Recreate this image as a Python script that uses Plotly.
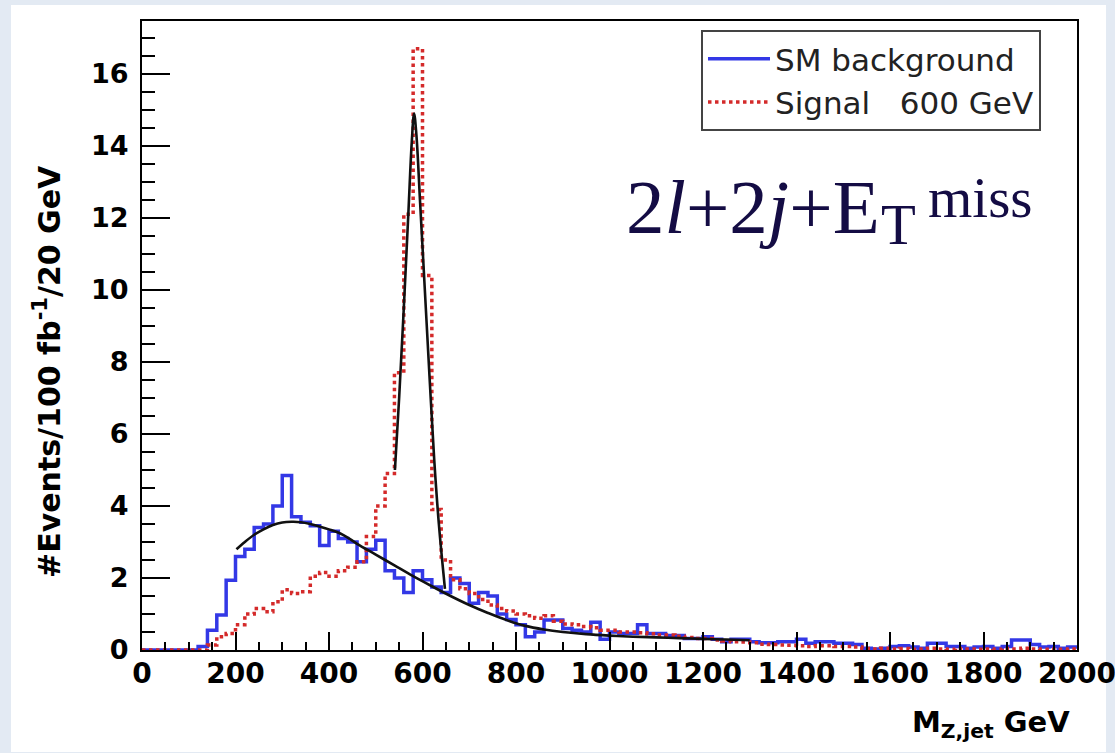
import plotly.graph_objects as go

# ---------------- data ----------------
bin_edges = list(range(0, 2001, 20))  # 100 bins of 20 GeV

sm_background = [
    0.0, 0.0, 0.0, 0.0, 0.0, 0.0, 0.1, 0.55, 0.97, 1.94,      # 0-200
    2.6, 2.8, 3.4, 3.5, 4.0, 4.85, 3.7, 3.55, 3.45, 2.9,      # 200-400
    3.3, 3.1, 3.0, 2.45, 2.8, 3.05, 2.2, 2.0, 1.6, 2.2,       # 400-600
    1.95, 1.75, 1.6, 2.0, 1.85, 1.3, 1.6, 1.5, 1.0, 0.85,     # 600-800
    0.7, 0.37, 0.5, 0.83, 0.83, 0.6, 0.55, 0.5, 0.77, 0.3,    # 800-1000
    0.5, 0.46, 0.46, 0.7, 0.46, 0.46, 0.4, 0.4, 0.32, 0.32,   # 1000-1200
    0.37, 0.3, 0.23, 0.3, 0.3, 0.23, 0.2, 0.2, 0.23, 0.23,    # 1200-1400
    0.3, 0.19, 0.23, 0.23, 0.19, 0.19, 0.15, 0.05, 0.03, 0.05,  # 1400-1600
    0.1, 0.12, 0.08, 0.05, 0.19, 0.19, 0.1, 0.1, 0.05, 0.08,  # 1600-1800
    0.1, 0.05, 0.1, 0.28, 0.28, 0.15, 0.08, 0.1, 0.05, 0.08,  # 1800-2000
]

signal_600 = [
    0.0, 0.0, 0.0, 0.0, 0.0, 0.0, 0.0, 0.14, 0.37, 0.46,      # 0-200
    0.7, 1.0, 1.15, 1.06, 1.34, 1.67, 1.57, 1.62, 2.05, 2.15, # 200-400
    2.05, 2.2, 2.3, 2.45, 3.15, 4.0, 4.9, 7.7, 12.1, 16.7,    # 400-600
    10.4, 3.9, 2.5, 1.95, 1.7, 1.57, 1.4, 1.25, 1.15, 1.08,   # 600-800
    1.0, 0.95, 0.88, 0.95, 0.8, 0.72, 0.7, 0.65, 0.62, 0.55,  # 800-1000
    0.55, 0.5, 0.5, 0.48, 0.45, 0.42, 0.42, 0.38, 0.35, 0.32, # 1000-1200
    0.32, 0.28, 0.25, 0.23, 0.22, 0.2, 0.16, 0.15, 0.14, 0.13,  # 1200-1400
    0.12, 0.1, 0.12, 0.12, 0.1, 0.1, 0.08, 0.04, 0.03, 0.05,  # 1400-1600
    0.03, 0.04, 0.02, 0.03, 0.05, 0.03, 0.02, 0.04, 0.03, 0.02,  # 1600-1800
    0.03, 0.02, 0.04, 0.03, 0.05, 0.03, 0.02, 0.03, 0.02, 0.03,  # 1800-2000
]

bg_fit_mass = [202, 220, 240, 260, 280, 300, 320, 340, 360, 380, 400, 430,
               460, 500, 540, 580, 620, 660, 700, 740, 780, 820, 860, 900,
               950, 1000, 1050, 1100, 1150, 1200, 1250, 1300]
bg_fit_value = [2.8, 3.0, 3.2, 3.35, 3.47, 3.54, 3.56, 3.55, 3.5, 3.43, 3.35, 3.2,
                2.95, 2.65, 2.35, 2.05, 1.77, 1.5, 1.25, 1.03, 0.83, 0.67, 0.57, 0.5,
                0.44, 0.4, 0.37, 0.35, 0.33, 0.31, 0.29, 0.27]

sig_fit_mass = [541, 550, 560, 570, 577, 582, 587, 595, 605, 615, 625, 635, 648]
sig_fit_value = [5.0, 7.0, 9.5, 12.2, 14.1, 14.9, 14.3, 12.4, 10.0, 7.6, 5.3, 3.5, 1.7]

x_tick_values = list(range(0, 2001, 200))
y_tick_values = list(range(0, 17, 2))

# ---------------- figure ----------------
W, H = 1115, 753
ML, MR, MT, MB = 142, 38, 21, 103
PW, PH = W - ML - MR, H - MT - MB


def px_x(p):
    return (p - ML) / PW


def px_y(p):
    return (H - MB - p) / PH


def step_xy(edges, vals):
    return list(edges), list(vals) + [vals[-1]]


fig = go.Figure()

bx, by = step_xy(bin_edges, sm_background)
fig.add_trace(go.Scatter(x=bx, y=by, mode="lines", line_shape="hv",
                         line=dict(color="#3338e6", width=3.5),
                         name="SM background"))
sx, sy = step_xy(bin_edges, signal_600)
fig.add_trace(go.Scatter(x=sx, y=sy, mode="lines", line_shape="hv",
                         line=dict(color="#d42a2a", width=3.5, dash="3.5px,3.5px"),
                         name="Signal\u00a0\u00a0\u00a0600 GeV"))
fig.add_trace(go.Scatter(x=bg_fit_mass, y=bg_fit_value, mode="lines",
                         line=dict(color="#111111", width=2.6, shape="spline"),
                         showlegend=False))
fig.add_trace(go.Scatter(x=sig_fit_mass, y=sig_fit_value, mode="lines",
                         line=dict(color="#111111", width=2.6, shape="spline"),
                         showlegend=False))

xtickfont = dict(family="DejaVu Sans", size=28, color="black", weight="bold")
ytickfont = dict(family="DejaVu Sans", size=27, color="black", weight="bold")

fig.update_xaxes(range=[0, 2000], showline=True, linecolor="black", linewidth=2,
                 mirror=True, showgrid=False, zeroline=False,
                 tickmode="array", tickvals=x_tick_values,
                 ticks="inside", ticklen=18, tickwidth=1.5, tickcolor="black",
                 minor=dict(ticks="inside", ticklen=8, dtick=50, tickwidth=1.5,
                            tickcolor="black", showgrid=False),
                 tickfont=xtickfont, ticklabeloverflow="allow")
try:
    fig.update_xaxes(ticklabelstandoff=-3)
except ValueError:
    fig.update_xaxes(ticklabelstandoff=0)

fig.update_yaxes(range=[0, 17.47], showline=True, linecolor="black", linewidth=2,
                 mirror=True, showgrid=False, zeroline=False,
                 tickmode="array", tickvals=y_tick_values,
                 ticks="inside", ticklen=28, tickwidth=1.5, tickcolor="black",
                 minor=dict(ticks="inside", ticklen=13, dtick=0.5, tickwidth=1.5,
                            tickcolor="black", showgrid=False),
                 tickfont=ytickfont, ticklabelstandoff=6, ticklabeloverflow="allow")

fig.add_shape(type="rect", xref="paper", yref="paper", layer="below",
              x0=px_x(11), x1=px_x(1106), y0=px_y(752), y1=px_y(5),
              fillcolor="white", line=dict(width=0))

fig.add_annotation(text="#Events/100 fb<sup>-1</sup>/20 GeV", textangle=-90,
                   xref="paper", yref="paper", x=px_x(47), y=px_y(372),
                   xanchor="center", yanchor="middle", showarrow=False,
                   font=dict(family="DejaVu Sans", size=30, color="black", weight="bold"))
fig.add_annotation(text="M<sub>Z,jet</sub> GeV",
                   xref="paper", yref="paper", x=px_x(1072), y=px_y(724),
                   xanchor="right", yanchor="middle", showarrow=False,
                   font=dict(family="DejaVu Sans", size=29, color="black", weight="bold"))

formula_font = dict(family="Liberation Serif", color="#140c44")
fig.add_annotation(text="2<i>l</i>+2<i>j</i>+E",
                   xref="paper", yref="paper", x=px_x(624), y=px_y(207),
                   xanchor="left", yanchor="middle", showarrow=False,
                   font=dict(size=77, **formula_font))
fig.add_annotation(text="T",
                   xref="paper", yref="paper", x=px_x(879), y=px_y(224),
                   xanchor="left", yanchor="middle", showarrow=False,
                   font=dict(size=57, **formula_font))
fig.add_annotation(text="miss",
                   xref="paper", yref="paper", x=px_x(926), y=px_y(197),
                   xanchor="left", yanchor="middle", showarrow=False,
                   font=dict(size=57, **formula_font))

fig.update_layout(
    width=W, height=H,
    margin=dict(l=ML, r=MR, t=MT, b=MB, autoexpand=False),
    paper_bgcolor="#e3eaf3", plot_bgcolor="white",
    showlegend=True,
    legend=dict(x=px_x(701), y=px_y(30), xanchor="left", yanchor="top",
                bgcolor="white", bordercolor="#444444", borderwidth=2,
                font=dict(family="DejaVu Sans", size=31, color="#222222"),
                tracegroupgap=0, itemwidth=62),
)

fig.write_html("out.html",
               config={"displayModeBar": False},
               post_script="document.body.style.margin='0px';"
                           "document.body.style.overflow='hidden';")
